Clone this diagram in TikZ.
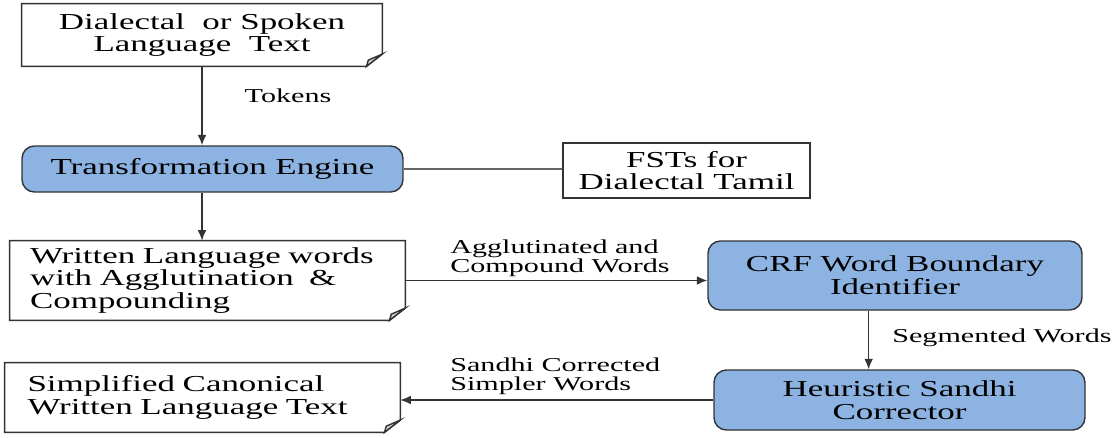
\documentclass[tikz,border=0pt]{standalone}
\usepackage{fontspec}
\setmainfont[FakeStretch=1.53]{Liberation Serif}
\usepackage{tikz}
\usetikzlibrary{positioning,arrows.meta}
\definecolor{stageblue}{HTML}{8DB3E2}
\newcommand{\boxfont}{\fontsize{13}{13}\selectfont}
\newcommand{\lblfont}{\fontsize{11.2}{10.8}\selectfont}
% page with a folded lower right corner
\newcommand{\docfold}[1]{%
  \draw[edge] (#1.north west)--(#1.north east)--([yshift=7pt]#1.south east)
    --([xshift=-9pt]#1.south east)--(#1.south west)--cycle;%
  \draw[edge,fill=gray!35] ([yshift=7pt]#1.south east)--([xshift=-9pt]#1.south east)
    --([xshift=-8pt,yshift=3.5pt]#1.south east)--cycle;%
}
\tikzset{
  edge/.style={draw=black!80,line width=0.8pt},
  stage/.style={edge,fill=stageblue,rounded corners=7pt,font=\boxfont,align=center},
  page/.style={font=\boxfont,inner sep=0pt},
  lbl/.style={font=\lblfont,align=left,inner sep=0pt},
  flow/.style={edge,-{Latex[length=6pt,width=5pt]}},
}
\begin{document}
\begin{tikzpicture}[x=0.02cm,y=-0.02cm]
  \useasboundingbox (0,0) rectangle (1117,437);
  \node[page,minimum width=7.2cm,minimum height=1.24cm,align=center] (src) at (202,35)
    {Dialectal\ \ or Spoken\\Language\ \ Text};
  \docfold{src}
  \node[stage,minimum width=7.62cm,minimum height=0.92cm] (eng) at (212.5,169) {Transformation Engine};
  \node[edge,font=\boxfont,align=center,minimum width=4.94cm,minimum height=1.1cm] (fst) at (686.5,170.5)
    {FSTs for\\Dialectal Tamil};
  \node[page,minimum width=7.9cm,minimum height=1.58cm,text width=7.1cm,align=left] (wrt) at (207.5,280.5)
    {Written Language words\\with Agglutination\ \ \&\\Compounding};
  \docfold{wrt}
  \node[stage,minimum width=7.48cm,minimum height=1.38cm] (crf) at (895,275.5)
    {CRF Word Boundary\\Identifier};
  \node[stage,minimum width=7.42cm,minimum height=1.2cm] (heu) at (899.5,400)
    {Heuristic Sandhi\\Corrector};
  \node[page,minimum width=7.9cm,minimum height=1.38cm,text width=7.0cm,align=left] (smp) at (202.5,397.5)
    {Simplified Canonical\\Written Language Text};
  \docfold{smp}

  \draw[flow] (src.south) -- (src.south |- eng.north);
  \draw[flow] (src.south |- eng.south) -- (src.south |- wrt.north);
  \draw[edge,draw=black!60] (eng.east) -- (eng.east -| fst.west);
  \draw[flow] (wrt.east) -- (wrt.east -| crf.west);
  \draw[flow] ([xshift=-15]crf.south) -- ([xshift=-15]crf.south |- heu.north);
  \draw[flow] (heu.west) -- (heu.west -| smp.east);

  \node[lbl] (tok) at (288,96) {Tokens};
  \node[lbl,anchor=south west] (agg) at (450,277) {Agglutinated and\\Compound Words};
  \node[lbl,anchor=west] (seg) at (892,338) {Segmented Words};
  \node[lbl,anchor=south west] (san) at (450,395) {Sandhi Corrected\\Simpler Words};
\end{tikzpicture}
\end{document}
